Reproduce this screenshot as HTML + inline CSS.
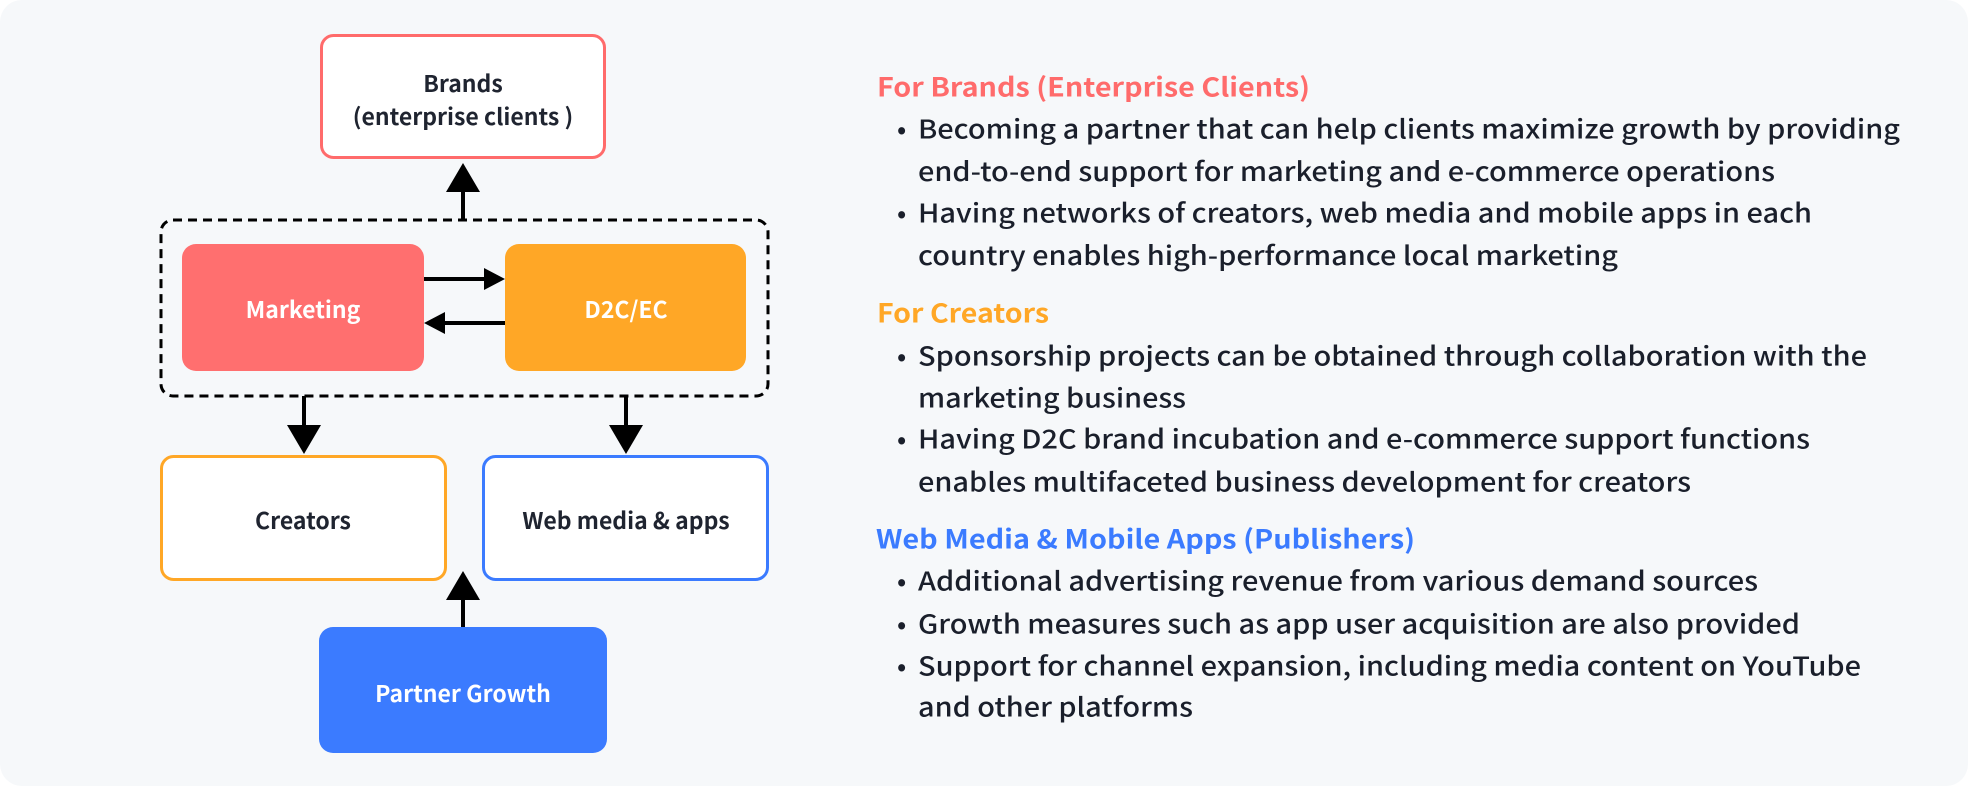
<!DOCTYPE html>
<html><head><meta charset="utf-8"><style>
html,body{margin:0;padding:0;background:#fff;}
svg{display:block;}
text{font-family:"Noto Sans CJK JP","Liberation Sans",sans-serif;}
.b{font-size:26px;fill:#1a1f2b;font-weight:500;}
.h{font-size:26px;font-weight:bold;}
.n{font-size:23px;font-weight:bold;text-anchor:middle;dominant-baseline:central;}
</style></head><body>
<svg width="1968" height="786" viewBox="0 0 1968 786" xmlns="http://www.w3.org/2000/svg">
<rect x="0" y="0" width="1968" height="786" rx="22" fill="#f6f8fa"/>
<!-- Brands -->
<rect x="321.5" y="35.5" width="283" height="122" rx="12" fill="#fff" stroke="#ff6b6b" stroke-width="3"/>
<text class="n" x="463" y="82" fill="#1f2430">Brands</text>
<text class="n" x="463" y="115" fill="#1f2430">(enterprise clients )</text>
<line x1="463" y1="219" x2="463" y2="190" stroke="#000" stroke-width="4"/>
<polygon points="463,163 446,192 480,192" fill="#000"/>
<rect x="161" y="220" width="607" height="176" rx="12" fill="none" stroke="#000" stroke-width="3" stroke-dasharray="9,6"/>
<rect x="182" y="244" width="242" height="127" rx="14" fill="#ff6f6f"/>
<text class="n" x="303" y="308" fill="#fff">Marketing</text>
<rect x="505" y="244" width="241" height="127" rx="14" fill="#ffa726"/>
<text class="n" x="626" y="308" fill="#fff">D2C/EC</text>
<line x1="424" y1="279" x2="486" y2="279" stroke="#000" stroke-width="4"/>
<polygon points="505,279 484,268 484,290" fill="#000"/>
<line x1="505" y1="323" x2="443" y2="323" stroke="#000" stroke-width="4"/>
<polygon points="424,323 445,312 445,334" fill="#000"/>
<line x1="304" y1="396" x2="304" y2="428" stroke="#000" stroke-width="4"/>
<polygon points="304,454 287,425 321,425" fill="#000"/>
<line x1="626" y1="396" x2="626" y2="428" stroke="#000" stroke-width="4"/>
<polygon points="626,454 609,425 643,425" fill="#000"/>
<rect x="161.5" y="456.5" width="284" height="123" rx="12" fill="#fff" stroke="#ffa726" stroke-width="3"/>
<text class="n" x="303" y="519" fill="#1f2430">Creators</text>
<rect x="483.5" y="456.5" width="284" height="123" rx="12" fill="#fff" stroke="#3b7bff" stroke-width="3"/>
<text class="n" x="626" y="519" fill="#1f2430">Web media &amp; apps</text>
<line x1="463" y1="627" x2="463" y2="597" stroke="#000" stroke-width="4"/>
<polygon points="463,571 446,600 480,600" fill="#000"/>
<rect x="319" y="627" width="288" height="126" rx="14" fill="#3b7bff"/>
<text class="n" x="463" y="692" fill="#fff">Partner Growth</text>

<g dominant-baseline="central">
<text class="h" x="877" y="86" fill="#ff6b6b" textLength="433" lengthAdjust="spacingAndGlyphs">For Brands (Enterprise Clients)</text>
<text class="b" x="897" y="128">•</text>
<text class="b" x="918" y="128" textLength="982" lengthAdjust="spacingAndGlyphs">Becoming a partner that can help clients maximize growth by providing</text>
<text class="b" x="918" y="170.5" textLength="857" lengthAdjust="spacingAndGlyphs">end-to-end support for marketing and e-commerce operations</text>
<text class="b" x="897" y="212">•</text>
<text class="b" x="918" y="212" textLength="894" lengthAdjust="spacingAndGlyphs">Having networks of creators, web media and mobile apps in each</text>
<text class="b" x="918" y="254.5" textLength="700" lengthAdjust="spacingAndGlyphs">country enables high-performance local marketing</text>

<text class="h" x="877" y="312" fill="#ffa726" textLength="172" lengthAdjust="spacingAndGlyphs">For Creators</text>
<text class="b" x="897" y="355">•</text>
<text class="b" x="918" y="355" textLength="949" lengthAdjust="spacingAndGlyphs">Sponsorship projects can be obtained through collaboration with the</text>
<text class="b" x="918" y="397" textLength="268" lengthAdjust="spacingAndGlyphs">marketing business</text>
<text class="b" x="897" y="438">•</text>
<text class="b" x="918" y="438" textLength="892" lengthAdjust="spacingAndGlyphs">Having D2C brand incubation and e-commerce support functions</text>
<text class="b" x="918" y="481" textLength="773" lengthAdjust="spacingAndGlyphs">enables multifaceted business development for creators</text>

<text class="h" x="876" y="538" fill="#3b7bff" textLength="539" lengthAdjust="spacingAndGlyphs">Web Media &amp; Mobile Apps (Publishers)</text>
<text class="b" x="897" y="580">•</text>
<text class="b" x="918" y="580" textLength="840" lengthAdjust="spacingAndGlyphs">Additional advertising revenue from various demand sources</text>
<text class="b" x="897" y="623">•</text>
<text class="b" x="918" y="623" textLength="882" lengthAdjust="spacingAndGlyphs">Growth measures such as app user acquisition are also provided</text>
<text class="b" x="897" y="665">•</text>
<text class="b" x="918" y="665" textLength="943" lengthAdjust="spacingAndGlyphs">Support for channel expansion, including media content on YouTube</text>
<text class="b" x="918" y="706" textLength="275" lengthAdjust="spacingAndGlyphs">and other platforms</text>
</g>
</svg>
</body></html>
